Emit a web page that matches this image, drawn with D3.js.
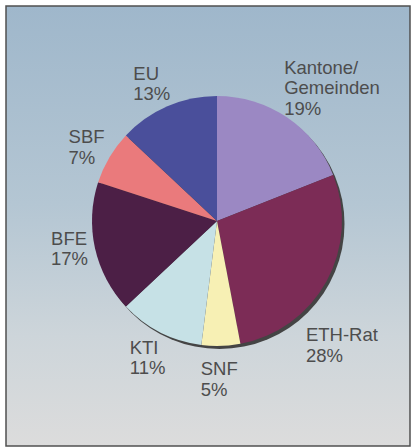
<!DOCTYPE html>
<html>
<head>
<meta charset="utf-8">
<script src="https://cdn.jsdelivr.net/npm/d3@7"></script>
<style>
  html, body { margin: 0; padding: 0; background: #fff; }
  svg { display: block; }
</style>
</head>
<body>
<div id="chart"></div>
<script>
// Finanzierungsquellen, Anteile in Prozent (im Uhrzeigersinn ab 12 Uhr)
const labels = ["Kantone/\nGemeinden", "ETH-Rat", "SNF", "KTI", "BFE", "SBF", "EU"];
const shares = [19, 28, 5, 11, 17, 7, 13];
const colors = ["#9b88c3", "#7c2c56", "#f7f0b4", "#c6e1e6", "#4c1f46", "#ea7a7c", "#4a4f9b"];

const width = 412, height = 448;
const cx = 217, cy = 221, r = 125;

const svg = d3.select("#chart").append("svg")
  .attr("width", width)
  .attr("height", height);

const defs = svg.append("defs");
const grad = defs.append("linearGradient")
  .attr("id", "bg").attr("x1", 0).attr("y1", 0).attr("x2", 0).attr("y2", 1);
grad.append("stop").attr("offset", "0%").attr("stop-color", "#9fb7cb");
grad.append("stop").attr("offset", "45%").attr("stop-color", "#b4c6d3");
grad.append("stop").attr("offset", "75%").attr("stop-color", "#cdd5da");
grad.append("stop").attr("offset", "100%").attr("stop-color", "#dcdcdc");

// frame
svg.append("rect")
  .attr("x", 6).attr("y", 6)
  .attr("width", 404).attr("height", 440)
  .attr("fill", "url(#bg)")
  .attr("stroke", "#505050")
  .attr("stroke-width", 1.5);

const pie = d3.pie().sort(null).value(d => d)(shares);
const arc = d3.arc().innerRadius(0).outerRadius(r);

const g = svg.append("g").attr("transform", `translate(${cx},${cy})`);

// drop shadow
g.append("circle")
  .attr("cx", 2.5).attr("cy", 3)
  .attr("r", r)
  .attr("fill", "#444");

g.selectAll("path.slice")
  .data(pie)
  .join("path")
  .attr("class", "slice")
  .attr("d", arc)
  .attr("fill", (d, i) => colors[i]);

// labels: placed around the pie, text left aligned inside each block
const labelR = [176, 176, 158, 153, 150, 150, 152];
const labelShift = [6.6, 16, 1, 0, 2, -1, -2]; // degrees
const lineH = 20.5;

labels.forEach((name, i) => {
  const d = pie[i];
  const a = (d.startAngle + d.endAngle) / 2 + labelShift[i] * Math.PI / 180;
  const px = cx + labelR[i] * Math.sin(a);
  const py = cy - labelR[i] * Math.cos(a);
  const lines = name.split("\n").concat([shares[i] + "%"]);
  const lg = svg.append("g");
  const t = lg.append("text")
    .attr("font-family", "'Liberation Sans', Arial, Helvetica, sans-serif")
    .attr("font-size", 18.5)
    .attr("fill", "#4d4d4d");
  lines.forEach((s, k) => {
    t.append("tspan").attr("x", 0).attr("y", k * lineH).text(s);
  });
  const bb = t.node().getBBox();
  lg.attr("transform", `translate(${px - bb.x - bb.width / 2},${py - bb.y - bb.height / 2})`);
});
</script>
</body>
</html>
